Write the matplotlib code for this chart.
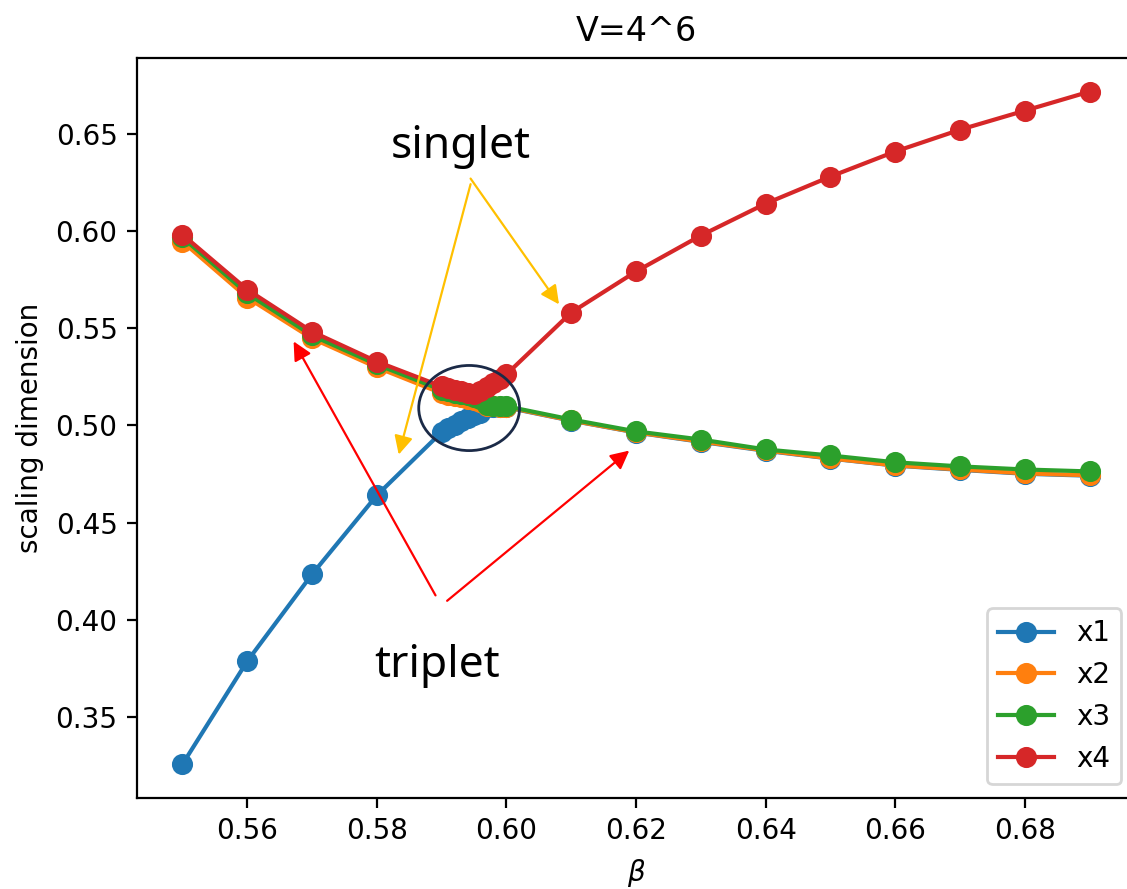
import matplotlib
matplotlib.use("Agg")
import matplotlib.pyplot as plt
from matplotlib.patches import Ellipse

# beta grid: coarse steps, finer steps through the crossing
beta = [0.55, 0.56, 0.57, 0.58,
        0.590, 0.591, 0.592, 0.593, 0.594, 0.595, 0.596, 0.597, 0.598, 0.599, 0.600,
        0.61, 0.62, 0.63, 0.64, 0.65, 0.66, 0.67, 0.68, 0.69]

x1 = [0.3257, 0.3787, 0.4234, 0.4640,
      0.4965, 0.4985, 0.5003, 0.5020, 0.5036, 0.5051, 0.5065, 0.5095, 0.5094, 0.5093, 0.5092,
      0.5024, 0.4963, 0.4915, 0.4869, 0.4829, 0.4793, 0.4771, 0.4751, 0.4741]
x2 = [0.5945, 0.5657, 0.5447, 0.5298,
      0.5165, 0.5158, 0.5151, 0.5144, 0.5137, 0.5129, 0.5120, 0.5100, 0.5098, 0.5096, 0.5094,
      0.5025, 0.4964, 0.4917, 0.4871, 0.4830, 0.4794, 0.4773, 0.4753, 0.4743]
x3 = [0.5966, 0.5678, 0.5462, 0.5313,
      0.5182, 0.5175, 0.5168, 0.5161, 0.5154, 0.5146, 0.5135, 0.5104, 0.5102, 0.5100, 0.5098,
      0.5030, 0.4969, 0.4927, 0.4876, 0.4845, 0.4810, 0.4789, 0.4773, 0.4763]
x4 = [0.5981, 0.5698, 0.5482, 0.5328,
      0.5200, 0.5192, 0.5184, 0.5176, 0.5168, 0.5160, 0.5175, 0.5195, 0.5217, 0.5240, 0.5262,
      0.5580, 0.5791, 0.5976, 0.6140, 0.6279, 0.6408, 0.6520, 0.6618, 0.6716]

series = [("x1", x1), ("x2", x2), ("x3", x3), ("x4", x4)]

fig = plt.figure(figsize=(1127 / 200, 889 / 200), dpi=200)
ax = fig.add_axes([0.1216, 0.1024, 0.8855, 0.8324])

for name, vals in series:
    ax.plot(beta, vals, "o-", ms=6.6, label=name)

ax.set_title("V=4^6")
ax.set_xlabel(r"$\beta$")
ax.set_ylabel("scaling dimension")
ax.legend(loc="lower right")

# annotations
note_font = ["Noto Sans", "DejaVu Sans"]
ax.text(0.5929, 0.6374, "singlet", ha="center", va="baseline",
        fontsize=16, family=note_font)
ax.text(0.5893, 0.3707, "triplet", ha="center", va="baseline",
        fontsize=16, family=note_font)

gold = "#FFC000"
arrows = [
    ((0.59447, 0.62400), (0.58338, 0.48496), gold),
    ((0.59447, 0.62688), (0.60812, 0.56220), gold),
    ((0.58906, 0.41256), (0.56716, 0.54315), "#FF0000"),
    ((0.59085, 0.40978), (0.61896, 0.48703), "#FF0000"),
]
for tail, head, col in arrows:
    ax.annotate("", xy=head, xytext=tail,
                arrowprops=dict(arrowstyle="-|>", color=col, lw=0.8,
                                mutation_scale=14, shrinkA=0, shrinkB=0))

ax.add_patch(Ellipse((0.59425, 0.5089), 0.01556, 0.04377,
                     fill=False, edgecolor="#1B2A47", lw=1.0, zorder=5))

fig.savefig("out.png", dpi=200)
